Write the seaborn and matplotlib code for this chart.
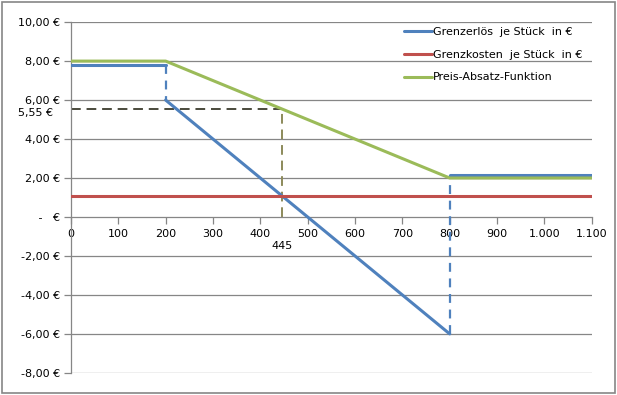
import matplotlib
matplotlib.use("Agg")
import matplotlib.pyplot as plt
import matplotlib.patches as patches
import pandas as pd
import seaborn as sns

# data
erloes_x = [0, 200, 200, 800, 800, 1100]
erloes_y = [7.8, 7.8, 6.0, -6.0, 2.15, 2.15]
erloes_dashed = [False, True, False, True, False]  # segment styles
kosten_x = [0, 1100]
kosten_y = [1.1, 1.1]
pab_x = [0, 200, 800, 1100]
pab_y = [8.0, 8.0, 2.0, 2.0]
opt_menge = 445
opt_preis = 5.55

yticks = [-8, -6, -4, -2, 0, 2, 4, 6, 8, 10]
ytick_labels = ["-8,00 €", "-6,00 €", "-4,00 €", "-2,00 €", " -   €",
                "2,00 €", "4,00 €", "6,00 €", "8,00 €", "10,00 €"]
xticks = list(range(0, 1200, 100))
xtick_labels = ["0", "100", "200", "300", "400", "500", "600", "700", "800",
                "900", "1.000", "1.100"]

blue = "#4F81BD"
red = "#C0504D"
green = "#9BBB59"
fs = 8

sns.set_style("white")
plt.rcParams["font.family"] = ["DejaVu Sans"]
plt.rcParams["text.color"] = "black"
plt.rcParams["xtick.color"] = "black"
plt.rcParams["ytick.color"] = "black"

fig = plt.figure(figsize=(6.17, 3.95), dpi=100)
ax = fig.add_axes([0.115, 0.056, 0.844, 0.888])

# x axis crosses at y = 0 (set before the ticks, it resets them)
for s in ["top", "right"]:
    ax.spines[s].set_visible(False)
ax.spines["bottom"].set_position(("data", 0))
ax.spines["left"].set_color("#868686")
ax.spines["left"].set_linewidth(0.9)
ax.spines["bottom"].set_color("#868686")
ax.spines["bottom"].set_linewidth(0.9)

# gridlines
for t in yticks:
    if t != 0:
        ax.axhline(t, color="#868686", lw=0.9, zorder=0)

# Grenzerlös: solid and dashed pieces
for i in range(len(erloes_x) - 1):
    seg = pd.DataFrame({"x": erloes_x[i:i + 2], "y": erloes_y[i:i + 2]})
    if erloes_dashed[i]:
        sns.lineplot(data=seg, x="x", y="y", ax=ax, color=blue, lw=1.6,
                     linestyle=(0, (4, 3)), sort=False, estimator=None,
                     zorder=3)
    else:
        sns.lineplot(data=seg, x="x", y="y", ax=ax, color=blue, lw=2.2,
                     sort=False, estimator=None, zorder=3,
                     label="Grenzerlös  je Stück  in €" if i == 0 else None)

sns.lineplot(x=kosten_x, y=kosten_y, ax=ax, color=red, lw=2.2, zorder=3,
             estimator=None, label="Grenzkosten  je Stück  in €")
sns.lineplot(x=pab_x, y=pab_y, ax=ax, color=green, lw=2.2, zorder=3,
             estimator=None, label="Preis-Absatz-Funktion")

# optimum helper lines
sns.lineplot(x=[0, opt_menge], y=[opt_preis, opt_preis], ax=ax, color="#4a4a3c",
             lw=1.4, linestyle=(0, (5, 3)), estimator=None, zorder=2)
sns.lineplot(x=[opt_menge, opt_menge], y=[0, opt_preis], ax=ax, color="#8c8a5a",
             lw=1.4, linestyle=(0, (5, 3)), estimator=None, sort=False, zorder=2)
ax.text(opt_menge, -1.5, str(opt_menge), ha="center", va="center", fontsize=fs)
ax.text(-38, opt_preis - 0.22, "5,55 €", ha="right", va="center", fontsize=fs,
        clip_on=False)

ax.set_xlim(0, 1100)
ax.set_ylim(-8, 10)
ax.set_yticks(yticks)
ax.set_yticklabels(ytick_labels)
ax.set_xticks(xticks)
ax.set_xticklabels(xtick_labels)
ax.set_xlabel("")
ax.set_ylabel("")
ax.tick_params(axis="y", length=5, color="#868686", width=0.9, pad=3,
               left=True, labelsize=fs, labelcolor="black")
ax.tick_params(axis="x", length=5, color="#868686", width=0.9, pad=4,
               direction="out", bottom=True, labelsize=fs, labelcolor="black")

ax.legend(loc="upper left", bbox_to_anchor=(0.62, 1.015), frameon=False,
          fontsize=fs, handlelength=2.5, handletextpad=0.1, labelspacing=1.15,
          labelcolor="black")

fig.patches.append(patches.Rectangle((0.004, 0.004), 0.992, 0.99,
                                     transform=fig.transFigure, fill=False,
                                     edgecolor="#868686", lw=1.2))

fig.savefig("out.png", dpi=100)
